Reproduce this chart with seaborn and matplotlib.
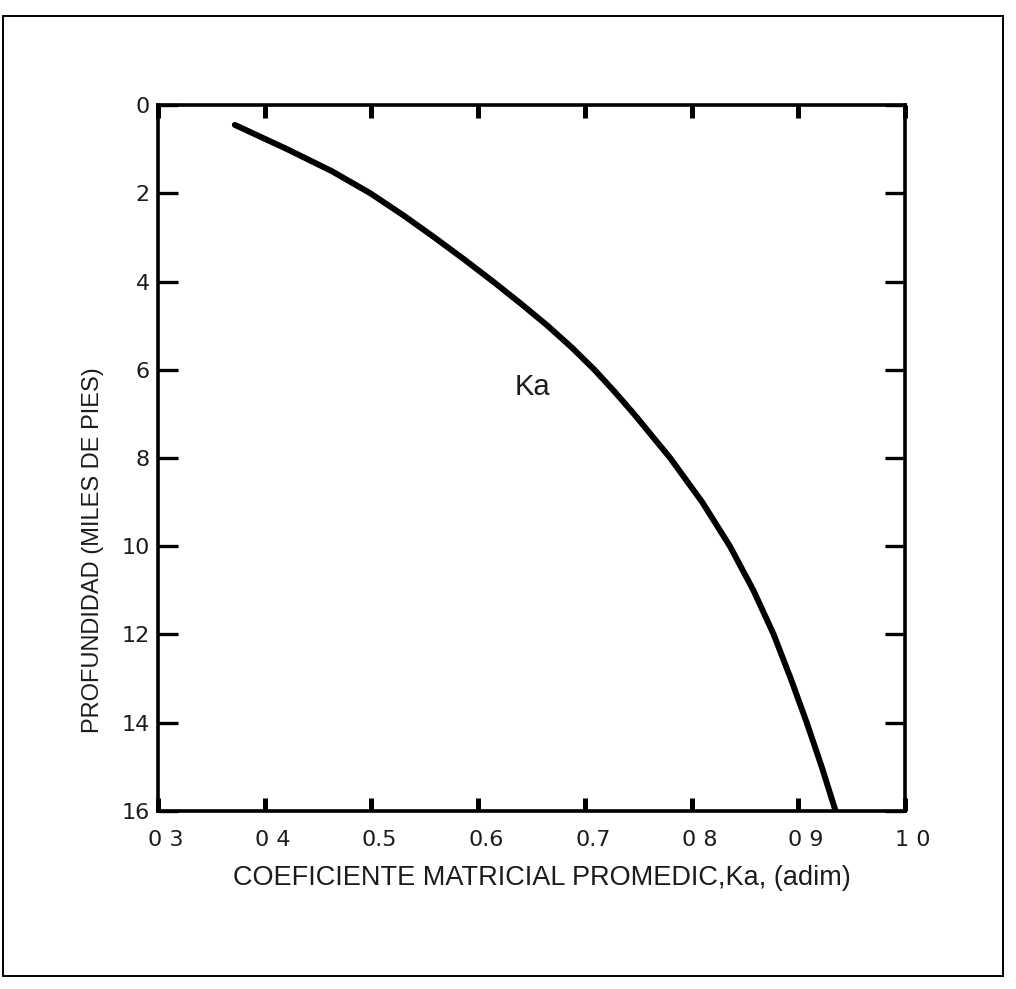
import matplotlib
matplotlib.use("Agg")
import matplotlib.pyplot as plt
import matplotlib.transforms as mtransforms
import seaborn as sns
import pandas as pd
from matplotlib.patches import Rectangle

# Average matrix coefficient Ka versus depth (thousands of feet)
ka_values = [0.372, 0.421, 0.463, 0.499, 0.530, 0.559, 0.587, 0.614, 0.640, 0.665,
             0.688, 0.709, 0.728, 0.746, 0.763, 0.780, 0.810, 0.836, 0.858, 0.877,
             0.893, 0.908, 0.922, 0.935]
depth_values = [0.45, 1.0, 1.5, 2.0, 2.5, 3.0, 3.5, 4.0, 4.5, 5.0,
                5.5, 6.0, 6.5, 7.0, 7.5, 8.0, 9.0, 10.0, 11.0, 12.0,
                13.0, 14.0, 15.0, 16.0]

x_ticks = [0.3, 0.4, 0.5, 0.6, 0.7, 0.8, 0.9, 1.0]
x_tick_labels = ["0 3", "0 4", "0.5", "0.6", "0.7", "0 8", "0 9", "1 0"]
y_ticks = [0, 2, 4, 6, 8, 10, 12, 14, 16]
y_tick_labels = ["0", "2", "4", "6", "8", "10", "12", "14", "16"]

curve_label = "Ka"
x_title = "COEFICIENTE MATRICIAL PROMEDIC,Ka, (adim)"
y_title = "PROFUNDIDAD (MILES DE PIES)"

df = pd.DataFrame({"ka": ka_values, "depth": depth_values})

sns.set_theme(style="ticks")
plt.rcParams["font.family"] = ["Liberation Sans", "DejaVu Sans"]

ink = "#1c1c1c"

fig = plt.figure(figsize=(10.16, 9.89), dpi=100)
fig.patch.set_facecolor("white")
ax = fig.add_axes([0.1555, 0.180, 0.7352, 0.7138])

sns.lineplot(data=df, x="ka", y="depth", sort=False, estimator=None,
             color="black", linewidth=4.3, ax=ax)

ax.set_xlim(0.3, 1.0)
ax.set_ylim(16, 0)
ax.set_xticks(x_ticks)
ax.set_xticklabels(x_tick_labels, family=["DejaVu Sans"])
ax.set_yticks(y_ticks)
ax.set_yticklabels(y_tick_labels, family=["DejaVu Sans"])

ax.tick_params(axis="y", direction="in", length=14.5, width=2.4, color="black",
               labelsize=16, labelcolor=ink, right=True, pad=6)
ax.tick_params(axis="x", direction="in", length=9.5, width=3.6, color="black",
               labelsize=16, labelcolor=ink, top=True, pad=14)
for side in ["left", "right", "top", "bottom"]:
    ax.spines[side].set_linewidth(2.6)
    ax.spines[side].set_color("black")

# nudge the x tick labels slightly to the right of their ticks
shift = mtransforms.ScaledTranslation(8 / 100, 0, fig.dpi_scale_trans)
for lbl in ax.get_xticklabels():
    lbl.set_transform(lbl.get_transform() + shift)

ax.set_xlabel(x_title, fontsize=19.5, color=ink, ha="left", va="center")
ax.xaxis.set_label_coords(0.100, -0.095)

ax.set_ylabel(y_title, family=["Liberation Sans Narrow", "Liberation Sans"],
              fontsize=17, color=ink, va="center")
ax.yaxis.set_label_coords(-0.087, 0.37)

ax.text(0.651, 6.39, curve_label, fontsize=21, color=ink,
        ha="center", va="center")

# Outer border around the whole figure
fig.patches.append(Rectangle((0.003, 0.013), 0.984, 0.971, transform=fig.transFigure,
                             fill=False, edgecolor="black", linewidth=1.4))

fig.savefig("out.png", dpi=100, facecolor="white")
